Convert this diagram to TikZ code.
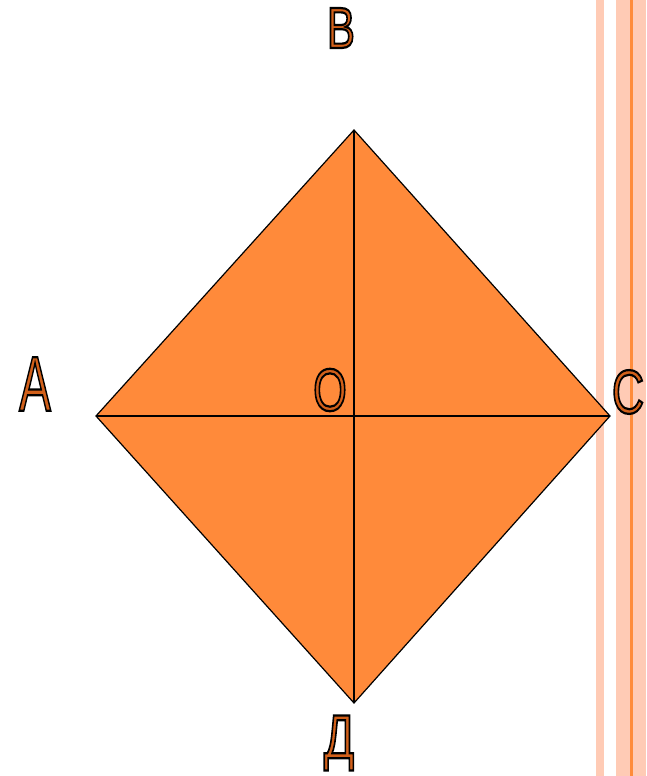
\documentclass[tikz,border=0pt]{standalone}
\usepackage{fontspec}
\setmainfont{Liberation Sans}
\usetikzlibrary{positioning}
\definecolor{rhombfill}{HTML}{FF8A3A}
\definecolor{lettercol}{HTML}{D2601A}
\definecolor{stripepale}{HTML}{FFCBB5}
\definecolor{stripeline}{HTML}{FF8C3A}
% outlined letter: fill in orange, stroke in black
\newcommand{\outl}[1]{\textcolor{lettercol}{\special{pdf:literal direct 2 Tr 2.2 w 0 0 0 RG}#1\special{pdf:literal direct 0 Tr}}}
\tikzset{vertexlabel/.style={inner sep=0pt, xscale=0.72, font=\fontsize{58}{60}\selectfont}}

\begin{document}
\begin{tikzpicture}[x=1pt, y=-1pt, thick]
        \useasboundingbox (0,0) rectangle (646,776);
        % Stripes on the right
        \fill[stripepale] (596,0) rectangle (604,776);
        \fill[stripepale] (616,0) rectangle (646,776);
        \fill[stripeline] (630,0) rectangle (633,776);

        % Vertices
        \coordinate (A) at (96,416);
        \coordinate (B) at (354,130);
        \coordinate (C) at (610,416);
        \coordinate (D) at (354,703);
        \coordinate (O) at (354,416);

        % Rhombus and diagonals
        \filldraw[fill=rhombfill, draw=black, line width=1.2pt] (A) -- (B) -- (C) -- (D) -- cycle;
        \draw[line width=1.2pt] (A) -- (C);
        \draw[line width=1.2pt] (B) -- (D);

        % Labels
        \node[vertexlabel] (labB) at (341,28) {\outl{B}};
        \node[vertexlabel, font=\fontsize{78}{80}\selectfont, xscale=0.85] (labA) at (35,384) {\outl{A}};
        \node[vertexlabel, font=\fontsize{60}{62}\selectfont] (labO) at (330,390) {\outl{O}};
        \node[vertexlabel, font=\fontsize{62}{64}\selectfont] (labC) at (628,392) {\outl{C}};
        \node[vertexlabel, font=\fontsize{62}{64}\selectfont] (labD) at (339,743) {\outl{Д}};
    \end{tikzpicture}
\end{document}
